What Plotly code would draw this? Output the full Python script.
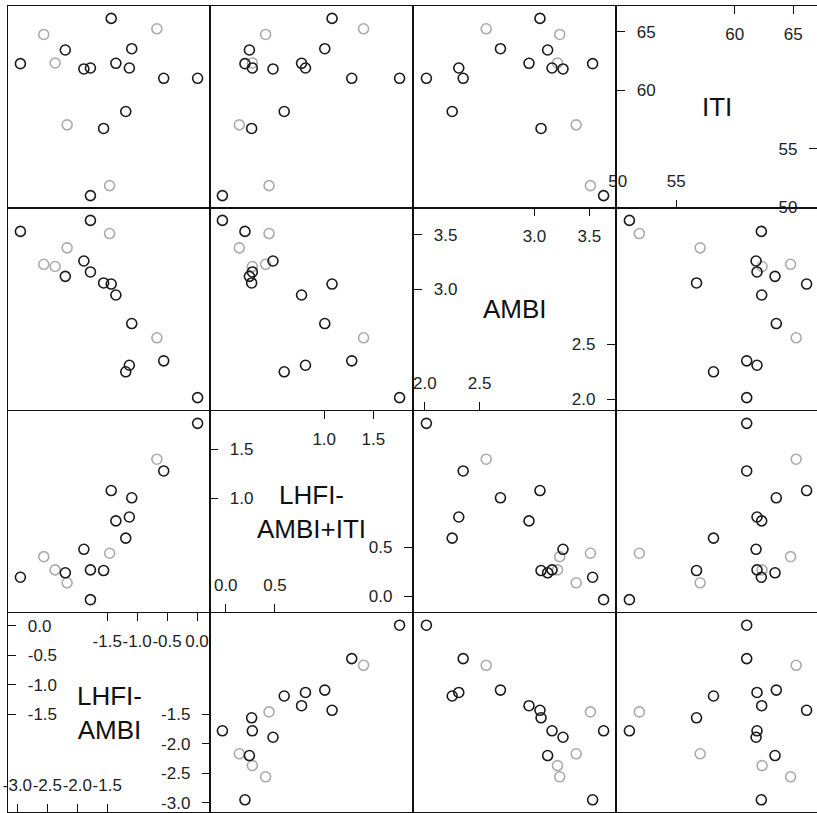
import plotly.graph_objects as go

# ---- data ----
var_names = ["LHFI-<br>AMBI", "LHFI-<br>AMBI+ITI", "AMBI", "ITI"]
lhfi_ambi = [0.01, -0.67, -0.556, -1.433, -1.09, -1.13, -1.355, -1.19, -1.89,
             -1.46, -2.56, -2.37, -2.20, -1.78, -1.56, -2.17, -2.95, -1.78]
lhfi_ambi_iti = [1.766, 1.40, 1.28, 1.08, 1.006, 0.81, 0.77, 0.594, 0.48,
                 0.44, 0.405, 0.27, 0.24, 0.27, 0.263, 0.138, 0.195, -0.034]
ambi = [2.015, 2.56, 2.35, 3.05, 2.69, 2.31, 2.95, 2.25, 3.26,
        3.51, 3.23, 3.21, 3.12, 3.16, 3.06, 3.38, 3.53, 3.63]
iti = [61.02, 65.25, 61.02, 66.14, 63.55, 61.9, 62.3, 58.18, 61.82,
       51.84, 64.77, 62.33, 63.44, 61.9, 56.73, 57.04, 62.27, 50.99]
group = ["b", "g", "b", "b", "b", "b", "b", "b", "b",
         "g", "g", "g", "b", "b", "b", "g", "b", "b"]
# tick values for diagonal panels: (lower half, upper half)
ticks_low = [[-3.0, -2.5, -2.0, -1.5], [0.0, 0.5], [2.0, 2.5], [50, 55]]
ticks_high = [[-1.5, -1.0, -0.5, 0.0], [1.0, 1.5], [3.0, 3.5], [60, 65]]
tick_dec = [1, 1, 1, 0]

data = [lhfi_ambi, lhfi_ambi_iti, ambi, iti]
colors = {"g": "#ababab", "b": "#1a1a1a"}

W, H = 817, 813
col_px = [(8, 210), (210, 412), (414, 615), (617, 817)]
row_px = [(6, 208), (208, 410), (411, 612), (613, 812)]
FULL = 202.0

ranges = []
for v in data:
    lo, hi = min(v), max(v)
    d = hi - lo
    ranges.append([lo - 0.07 * d, hi + 0.07 * d])

fig = go.Figure()
layout = {}
annotations = []
font_fam = "Liberation Sans, Arial, sans-serif"
tickfont = dict(family=font_fam, size=17, color="#222")


def labels(vals, dec):
    return [("%." + str(dec) + "f") % v for v in vals]


def empty(xa, ya):
    return go.Scatter(x=[], y=[], xaxis=xa, yaxis=ya, mode="markers",
                      showlegend=False, hoverinfo="skip")


next_extra = 17
for r in range(4):
    for c in range(4):
        k = r * 4 + c + 1
        xv = c
        yv = 3 - r
        xr = list(ranges[xv])
        yr = list(ranges[yv])
        a, b = col_px[c]
        if (b - a) < FULL - 0.5:
            xr[1] = xr[0] + (xr[1] - xr[0]) * (b - a) / FULL
        ta, tb = row_px[r]
        xdom = [a / W, b / W]
        ydom = [1 - tb / H, 1 - ta / H]
        xs = "" if k == 1 else str(k)
        diag = (xv == yv)
        base = dict(showgrid=False, zeroline=False, showline=True, mirror=True,
                    linecolor="#111", linewidth=1.3, fixedrange=True,
                    automargin=False)
        xa = dict(base, domain=xdom, range=xr, anchor="y" + xs)
        ya = dict(base, domain=ydom, range=yr, anchor="x" + xs)
        if diag:
            common = dict(ticks="inside", ticklen=8, tickwidth=1.2, tickcolor="#111",
                          ticklabelposition="inside", tickfont=tickfont,
                          tickmode="array", ticklabelstandoff=12,
                          ticklabeloverflow="allow", tickangle=0,
                          automargin=False)
            xa.update(common, tickvals=ticks_low[xv], ticklabelstandoff=10,
                      ticktext=labels(ticks_low[xv], tick_dec[xv]), side="bottom")
            ya.update(common, tickvals=ticks_high[yv],
                      ticktext=labels(ticks_high[yv], tick_dec[yv]), side="left")
            ex = next_extra
            ey = next_extra + 1
            next_extra += 2
            layout["xaxis%d" % ex] = dict(common, showgrid=False, zeroline=False, showline=False,
                                          range=xr, overlaying="x" + xs, anchor="y" + xs,
                                          side="top", tickvals=ticks_high[xv],
                                          ticktext=labels(ticks_high[xv], tick_dec[xv]),
                                          fixedrange=True)
            layout["xaxis%d" % ex]["ticklabelstandoff"] = 15
            layout["yaxis%d" % ey] = dict(common, showgrid=False, zeroline=False, showline=False,
                                          range=yr, overlaying="y" + xs, anchor="x" + xs,
                                          side="right", tickvals=ticks_low[yv],
                                          ticktext=labels(ticks_low[yv], tick_dec[yv]),
                                          fixedrange=True)
            fig.add_trace(empty("x" + xs, "y" + xs))
            fig.add_trace(empty("x%d" % ex, "y" + xs))
            fig.add_trace(empty("x" + xs, "y%d" % ey))
            annotations.append(dict(text=var_names[xv], xref="x%s domain" % xs,
                                    yref="y%s domain" % xs, x=0.5, y=0.5,
                                    showarrow=False,
                                    font=dict(family=font_fam, size=26, color="#111")))
        else:
            xa.update(showticklabels=False, ticks="")
            ya.update(showticklabels=False, ticks="")
            for g in ["g", "b"]:
                idx = [i for i in range(len(group)) if group[i] == g]
                fig.add_trace(go.Scatter(
                    x=[data[xv][i] for i in idx], y=[data[yv][i] for i in idx],
                    xaxis="x" + xs, yaxis="y" + xs, mode="markers",
                    marker=dict(symbol="circle-open", size=10, color=colors[g],
                                line=dict(width=1.6, color=colors[g])),
                    showlegend=False, hoverinfo="skip"))
        layout["xaxis" + xs] = xa
        layout["yaxis" + xs] = ya

fig.update_layout(**layout)
fig.update_layout(width=W, height=H, margin=dict(l=0, r=0, t=0, b=0, autoexpand=False),
                  paper_bgcolor="white", plot_bgcolor="white",
                  annotations=annotations, showlegend=False)
fig.write_html("out.html", config={"displayModeBar": False})
